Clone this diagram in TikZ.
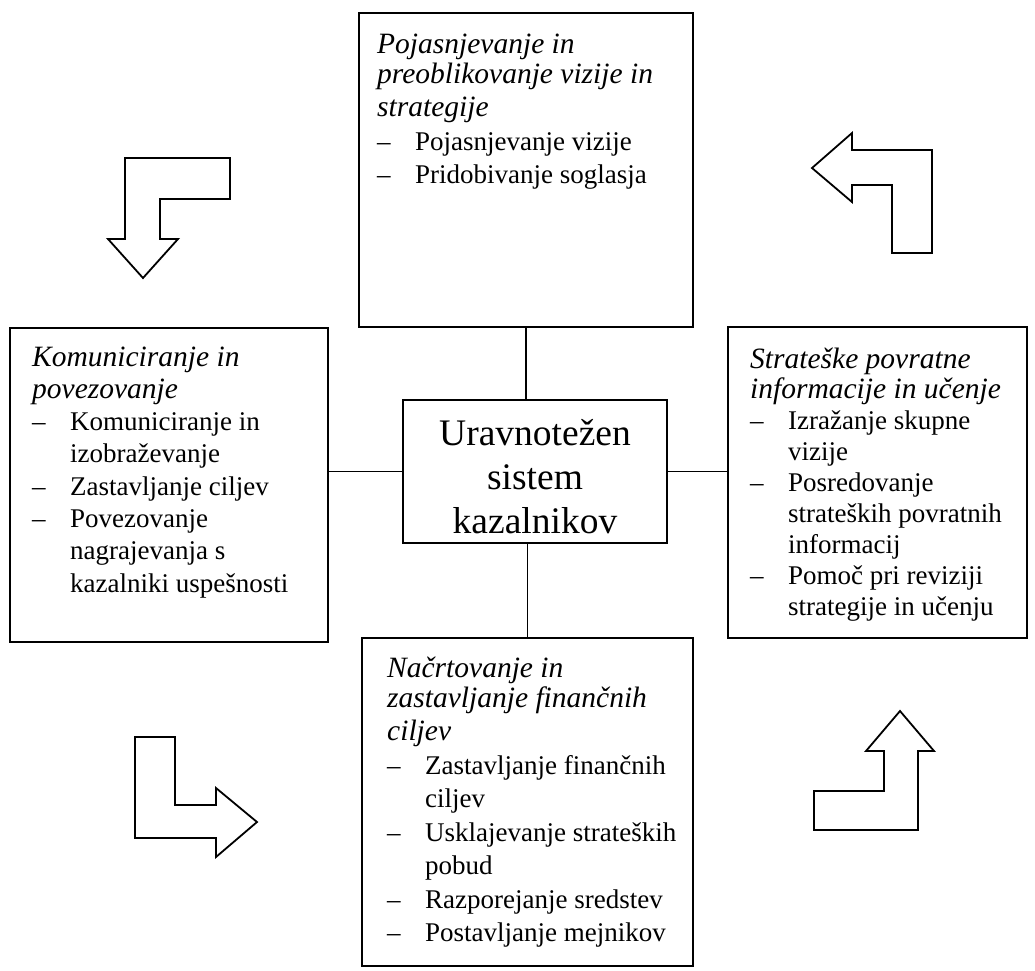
\documentclass[tikz,border=0pt]{standalone}
\usepackage{fontspec}
\setmainfont{Liberation Serif}
% italic heading of a panel
\newcommand{\boxhead}{\fontsize{29.5}{30}\selectfont\itshape}
% dash bullet and continuation indent for the panel items
\newcommand{\dashitem}{\makebox[38pt][l]{–}}
\newcommand{\indentline}{\hspace*{38pt}}
% panel text: width, line distance, content
\newcommand{\paneltext}[3]{\parbox[t]{#1}{\fontsize{27}{#2}\selectfont\raggedright #3}}
\begin{document}
\begin{tikzpicture}[x=1pt,y=-1pt,
  frame/.style={draw, line width=1.7pt, inner sep=0pt},
  link/.style={draw, line width=1.3pt},
  turn/.style={draw, line width=1.8pt, line join=miter},
  label/.style={inner sep=0pt, anchor=base west}]
\useasboundingbox (0,0) rectangle (1035,970);

% frames
\node[frame, minimum width=334pt, minimum height=314pt] (top) at (526,170) {};
\node[frame, minimum width=264pt, minimum height=143pt] (centre) at (535,471.5) {};
\node[frame, minimum width=318pt, minimum height=314pt] (left) at (169,485) {};
\node[frame, minimum width=299pt, minimum height=311pt] (right) at (877.5,482.5) {};
\node[frame, minimum width=331pt, minimum height=328pt] (bottom) at (527.5,802) {};

% connectors to the central frame
\draw[link] (top.south) -- (top.south |- centre.north);
\draw[link] (centre.south -| bottom.north) -- (bottom.north);
\draw[link] (left.east |- centre.west) -- (centre.west);
\draw[link] (centre.east) -- (centre.east -| right.west);

% texts
\node[inner sep=0pt, anchor=base] (centretext) at (535,445)
  {\parbox[t]{260pt}{\centering\fontsize{37.5}{44}\selectfont Uravnotežen\\ sistem\\ kazalnikov}};

\node[label] (toptext) at (377,53) {\paneltext{310pt}{33.5}{%
  {\boxhead Pojasnjevanje in\\ preoblikovanje vizije in\\ strategije}\\
  \dashitem Pojasnjevanje vizije\\
  \dashitem Pridobivanje soglasja}};

\node[label] (lefttext) at (32,366) {\paneltext{295pt}{32.3}{%
  {\boxhead Komuniciranje in\\ povezovanje}\\
  \dashitem Komuniciranje in\\
  \indentline izobraževanje\\
  \dashitem Zastavljanje ciljev\\
  \dashitem Povezovanje\\
  \indentline nagrajevanja s\\
  \indentline kazalniki uspešnosti}};

\node[label] (righttext) at (750,368) {\paneltext{275pt}{30.9}{%
  {\boxhead Strateške povratne\\ informacije in učenje}\\
  \dashitem Izražanje skupne\\
  \indentline vizije\\
  \dashitem Posredovanje\\
  \indentline strateških povratnih\\
  \indentline informacij\\
  \dashitem Pomoč pri reviziji\\
  \indentline strategije in učenju}};

\node[label] (bottomtext) at (387,677) {\paneltext{305pt}{33.5}{%
  {\boxhead Načrtovanje in\\ zastavljanje finančnih\\ ciljev}\\
  \dashitem Zastavljanje finančnih\\
  \indentline ciljev\\
  \dashitem Usklajevanje strateških\\
  \indentline pobud\\
  \dashitem Razporejanje sredstev\\
  \dashitem Postavljanje mejnikov}};

% turning block arrows in the corners
\draw[turn] (125,158) -- (230,158) -- (230,199) -- (160,199) -- (160,239)
  -- (178,239) -- (143,278) -- (108,239) -- (125,239) -- cycle;
\draw[turn] (812,168) -- (852,133) -- (852,150) -- (932,150) -- (932,253)
  -- (892,253) -- (892,185) -- (852,185) -- (852,202) -- cycle;
\draw[turn] (135,737) -- (175,737) -- (175,805) -- (216,805) -- (216,788)
  -- (257,822) -- (216,857) -- (216,838) -- (135,838) -- cycle;
\draw[turn] (900,711) -- (934,751) -- (918,751) -- (918,830) -- (814,830)
  -- (814,791) -- (884,791) -- (884,751) -- (866,751) -- cycle;
\end{tikzpicture}
\end{document}
